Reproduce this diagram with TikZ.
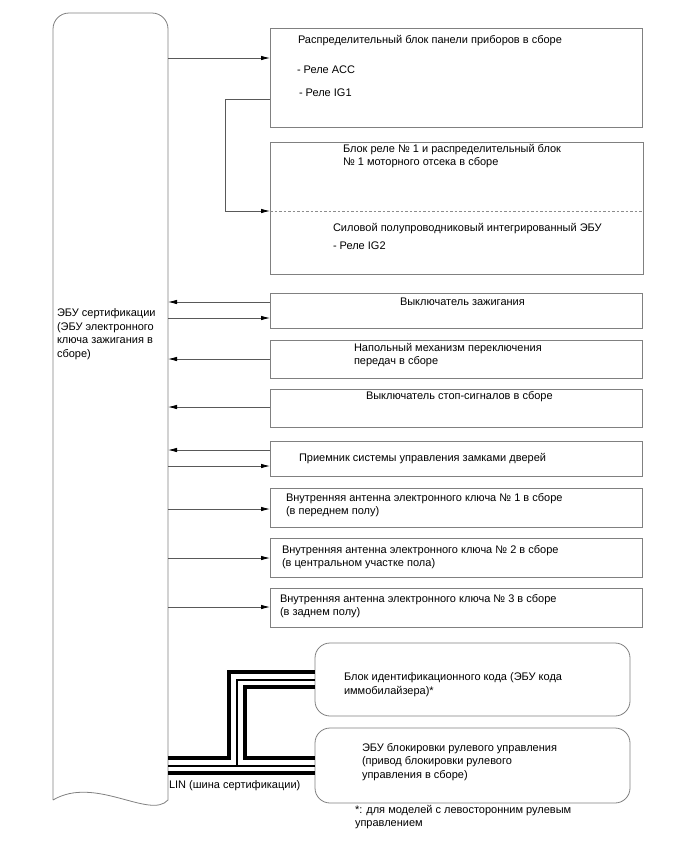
\documentclass[tikz,border=0pt]{standalone}
\usepackage{fontspec}
\setmainfont{Liberation Sans}
\usetikzlibrary{arrows.meta,calc}
\begin{document}
\begin{tikzpicture}[x=1pt,y=-1pt,
  box/.style={draw=black!50, line width=0.8pt, inner sep=0pt, outer sep=0pt, anchor=north west},
  rbox/.style={box, rounded corners=15pt},
  txt/.style={anchor=north west, inner sep=0pt, outer sep=0pt, align=left, font=\fontsize{11}{13.5}\selectfont},
  conn/.style={draw=black!65, line width=0.8pt},
  arr/.style={conn, -{Latex[length=9pt,width=4.5pt,color=black]}},
  thickbus/.style={line width=3.2pt, draw=black},
  thinbus/.style={line width=1.2pt, draw=black}
]
\useasboundingbox (0,0) rectangle (688,852);

% ECU
\node[inner sep=0pt, outer sep=0pt, minimum width=115pt, minimum height=787pt, anchor=north west] (ecu) at (53,13) {};
\draw[draw=black!50, line width=0.8pt] (53,800) [rounded corners=16pt] -- (53,13) -- (168,13) -- (168,780) [sharp corners] -- (168,800)
  .. controls (150,820) and (95,775) .. (53,800);
\node[txt] (ecut) at (57,309) {ЭБУ сертификации\\(ЭБУ электронного\\ключа зажигания в\\сборе)};

% boxes
\node[box, minimum width=372pt, minimum height=99pt] (b1) at (270,28) {};
\node[box, minimum width=373pt, minimum height=132pt] (b2) at (270,142) {};
\node[box, minimum width=372pt, minimum height=35pt] (b3) at (270,293) {};
\node[box, minimum width=372pt, minimum height=38pt] (b4) at (270,340) {};
\node[box, minimum width=372pt, minimum height=38pt] (b5) at (270,389) {};
\node[box, minimum width=372pt, minimum height=35pt] (b6) at (270,441) {};
\node[box, minimum width=372pt, minimum height=39pt] (b7) at (270,488) {};
\node[box, minimum width=372pt, minimum height=39pt] (b8) at (270,538) {};
\node[box, minimum width=372pt, minimum height=39pt] (b9) at (270,588) {};
\node[rbox, minimum width=315pt, minimum height=73pt] (bA) at (315,643) {};
\node[rbox, minimum width=315pt, minimum height=75pt] (bB) at (315,728) {};

\draw[draw=black!45, line width=0.8pt, dash pattern=on 2.5pt off 2pt] (b2.west |- 0,211) -- (b2.east |- 0,211);

% texts
\node[txt] (t1a) at (298,35) {Распределительный блок панели приборов в сборе};
\node[txt] (t1b) at (297,66) {- Реле ACC};
\node[txt] (t1c) at (299,89) {- Реле IG1};
\node[txt] (t2a) at (343,144) {Блок реле № 1 и распределительный блок\\№ 1 моторного отсека в сборе};
\node[txt] (t2b) at (333,223) {Силовой полупроводниковый интегрированный ЭБУ};
\node[txt] (t2c) at (333,242) {- Реле IG2};
\node[txt] (t3) at (400,298) {Выключатель зажигания};
\node[txt] (t4) at (354,343) {Напольный механизм переключения\\передач в сборе};
\node[txt] (t5) at (366,391) {Выключатель стоп-сигналов в сборе};
\node[txt] (t6) at (299,453) {Приемник системы управления замками дверей};
\node[txt] (t7) at (286,493) {Внутренняя антенна электронного ключа № 1 в сборе\\(в переднем полу)};
\node[txt] (t8) at (282,545) {Внутренняя антенна электронного ключа № 2 в сборе\\(в центральном участке пола)};
\node[txt] (t9) at (280,594) {Внутренняя антенна электронного ключа № 3 в сборе\\(в заднем полу)};
\node[txt] (tA) at (344,673) {Блок идентификационного кода (ЭБУ кода\\иммобилайзера)*};
\node[txt] (tB) at (362,743) {ЭБУ блокировки рулевого управления\\(привод блокировки рулевого\\управления в сборе)};
\node[txt] (lin) at (169,781) {LIN (шина сертификации)};
\node[txt] (note) at (355,805) {*: для моделей с левосторонним рулевым\\управлением};

% connectors
\draw[arr] (ecu.east |- 0,58) -- (b1.west |- 0,58);
\draw[arr] (b1.west |- 0,99) -- (225,99) -- (225,211) -- (b2.west |- 0,211);
\draw[arr] (b3.west |- 0,302) -- (ecu.east |- 0,302);
\draw[arr] (ecu.east |- 0,318) -- (b3.west |- 0,318);
\draw[arr] (b4.west |- 0,359) -- (ecu.east |- 0,359);
\draw[arr] (b5.west |- 0,407) -- (ecu.east |- 0,407);
\draw[arr] (b6.west |- 0,450) -- (ecu.east |- 0,450);
\draw[arr] (ecu.east |- 0,466) -- (b6.west |- 0,466);
\draw[arr] (ecu.east |- 0,509) -- (b7.west |- 0,509);
\draw[arr] (ecu.east |- 0,558) -- (b8.west |- 0,558);
\draw[arr] (ecu.east |- 0,607) -- (b9.west |- 0,607);

% LIN bus
\draw[thickbus] (ecu.east |- 0,758) -- (229,758) -- (229,672) -- (bA.west |- 0,672);
\draw[thinbus] (ecu.east |- 0,766) -- (bB.west |- 0,766);
\draw[thinbus] (237,766) -- (237,680) -- (bA.west |- 0,680);
\draw[thickbus] (bA.west |- 0,687) -- (245,687) -- (245,758) -- (bB.west |- 0,758);
\draw[thickbus] (ecu.east |- 0,773) -- (bB.west |- 0,773);
\end{tikzpicture}
\end{document}
